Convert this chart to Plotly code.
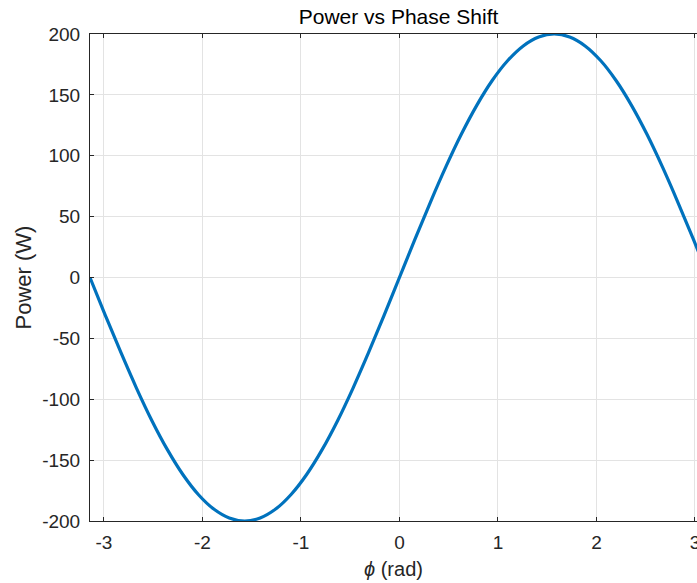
import plotly.graph_objects as go

phi = [-3.142, -2.985, -2.827, -2.670, -2.513, -2.356, -2.199, -2.042, -1.885, -1.728,
       -1.571, -1.414, -1.257, -1.100, -0.942, -0.785, -0.628, -0.471, -0.314, -0.157,
       0.0, 0.157, 0.314, 0.471, 0.628, 0.785, 0.942, 1.100, 1.257, 1.414,
       1.571, 1.728, 1.885, 2.042, 2.199, 2.356, 2.513, 2.670, 2.827, 2.985, 3.142]
power = [0.0, -31.3, -61.8, -90.8, -117.6, -141.4, -161.8, -178.2, -190.2, -197.5,
         -200.0, -197.5, -190.2, -178.2, -161.8, -141.4, -117.6, -90.8, -61.8, -31.3,
         0.0, 31.3, 61.8, 90.8, 117.6, 141.4, 161.8, 178.2, 190.2, 197.5,
         200.0, 197.5, 190.2, 178.2, 161.8, 141.4, 117.6, 90.8, 61.8, 31.3, 0.0]
x_ticks = [-3, -2, -1, 0, 1, 2, 3]
x_labels = ["-3", "-2", "-1", "0", "1", "2", "3"]
y_ticks = [-200, -150, -100, -50, 0, 50, 100, 150, 200]
y_labels = ["-200", "-150", "-100", "-50", "0", "50", "100", "150", "200"]

font = "Liberation Sans, Arial, sans-serif"
axis_col = "#262626"
grid_col = "#e3e3e3"

W, H = 697, 583

fig = go.Figure()
fig.add_trace(go.Scatter(x=phi, y=power, mode="lines",
                         line=dict(color="#0072BD", width=3.2, shape="spline"),
                         showlegend=False, cliponaxis=True))

fig.update_layout(
    width=W, height=H,
    margin=dict(l=90, r=0, t=34, b=62),
    paper_bgcolor="white", plot_bgcolor="white",
    font=dict(family=font, size=19, color=axis_col),
    title=dict(text="Power vs Phase Shift", x=398.5 / W, xanchor="center",
               y=1 - 17 / H, yanchor="middle",
               font=dict(family=font, size=21, color="#000000")),
    xaxis=dict(range=[-3.1416, 3.021], tickvals=x_ticks, ticktext=x_labels,
               ticks="inside", ticklen=4, tickcolor=axis_col, automargin=False,
               ticklabelstandoff=4, ticklabeloverflow="allow",
               showline=True, linecolor=axis_col, linewidth=1, mirror="ticks",
               showgrid=True, gridcolor=grid_col, gridwidth=1, zeroline=False,
               tickfont=dict(size=19, color=axis_col),
               title=dict(text="<i>ϕ</i> (rad)", standoff=10,
                          font=dict(size=20, color=axis_col))),
    yaxis=dict(range=[-200, 200], tickvals=y_ticks, ticktext=y_labels,
               ticks="inside", ticklen=4, tickcolor=axis_col, automargin=False,
               ticklabelstandoff=5, ticklabeloverflow="allow",
               showline=True, linecolor=axis_col, linewidth=1, mirror=False,
               showgrid=True, gridcolor=grid_col, gridwidth=1, zeroline=False,
               tickfont=dict(size=19, color=axis_col),
               title=dict(text="Power (W)", standoff=4,
                          font=dict(size=22, color=axis_col))),
)

fig.write_html("out.html", config={"displayModeBar": False},
               post_script="document.body.style.margin='0';document.body.style.overflow='hidden';")
